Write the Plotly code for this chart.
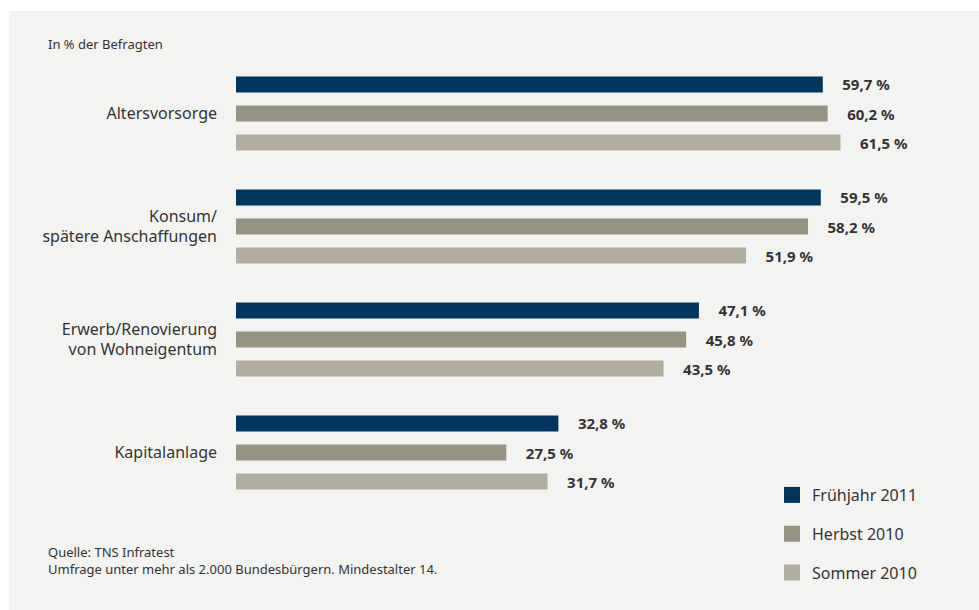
import plotly.graph_objects as go

categories = ["Altersvorsorge", "Konsum/<br>spätere Anschaffungen",
              "Erwerb/Renovierung<br>von Wohneigentum", "Kapitalanlage"]
series_names = ["Frühjahr 2011", "Herbst 2010", "Sommer 2010"]
fruehjahr_2011 = [59.7, 59.5, 47.1, 32.8]
herbst_2010 = [60.2, 58.2, 45.8, 27.5]
sommer_2010 = [61.5, 51.9, 43.5, 31.7]
colors = ["#00355f", "#969382", "#b1ae9f"]

W, H = 979, 610
L, R, T, B = 236, 55, 57, 101
PW, PH = W - L - R, H - T - B

def px_x(px):
    return (px - L) / PW

def px_y(py):
    return (H - B - py) / PH

fig = go.Figure()
for name, vals, col in zip(series_names, [fruehjahr_2011, herbst_2010, sommer_2010], colors):
    fig.add_trace(go.Bar(
        y=categories, x=vals, orientation="h", name=name,
        marker=dict(color=col, line=dict(width=0)),
        texttemplate="\u2002\u2002\u200a%{x:.1f} %", textposition="outside",
        constraintext="none", cliponaxis=False,
        textfont=dict(family="Noto Sans", size=15, color="#333333", weight="bold"),
        showlegend=False, hoverinfo="skip",
    ))
for i, (name, col) in enumerate(zip(series_names, colors)):
    fig.add_trace(go.Scatter(
        x=[None], y=[None], mode="markers", name=name, legendgroup=f"g{i}",
        marker=dict(symbol="square", size=16, color=col), showlegend=True,
    ))

fig.update_layout(
    width=W, height=H,
    margin=dict(l=L, r=R, t=T, b=B, pad=0),
    paper_bgcolor="#ffffff", plot_bgcolor="rgba(0,0,0,0)",
    barmode="group", bargap=0.23, bargroupgap=0.448,
    separators=",.",
    font=dict(family="Noto Sans", color="#333333"),
    xaxis=dict(range=[0, 70], visible=False, fixedrange=True),
    yaxis=dict(categoryorder="array", categoryarray=categories,
               range=[3.5, -0.5], showgrid=False, zeroline=False, showline=False,
               ticks="", ticklabelstandoff=18,
               tickfont=dict(family="Noto Sans", size=16, color="#333333")),
    legend=dict(x=px_x(772), y=px_y(478), xanchor="left", yanchor="top",
                bgcolor="rgba(0,0,0,0)", traceorder="grouped", tracegroupgap=15,
                font=dict(family="Noto Sans", size=16, color="#333333"),
                itemclick=False),
    shapes=[dict(type="rect", xref="paper", yref="paper",
                 x0=px_x(9), x1=px_x(W + 5), y0=px_y(H + 5), y1=px_y(11),
                 fillcolor="#f3f3f2", line=dict(width=0), layer="below")],
    annotations=[
        dict(text="In % der Befragten", xref="paper", yref="paper",
             x=px_x(46), y=px_y(44), xanchor="left", yanchor="middle",
             showarrow=False, font=dict(size=13, color="#333333")),
        dict(text="Quelle: TNS Infratest<br>Umfrage unter mehr als 2.000 Bundesbürgern. Mindestalter 14.",
             xref="paper", yref="paper", x=px_x(46), y=px_y(560), xanchor="left",
             yanchor="middle", align="left", showarrow=False,
             font=dict(size=13, color="#333333")),
    ],
)

fig.write_html("out.html")
